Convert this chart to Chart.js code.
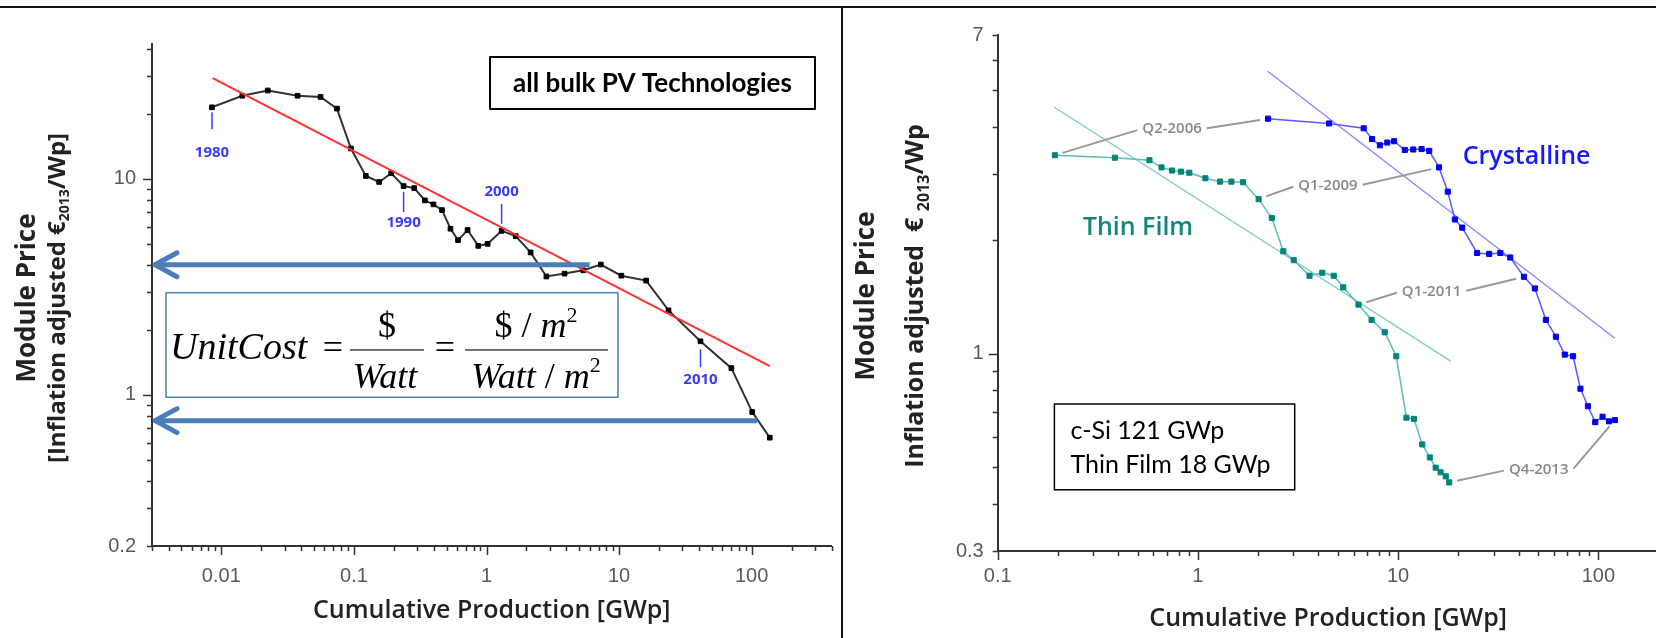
<!DOCTYPE html>
<html lang="en">
<head>
<meta charset="utf-8">
<title>PV module price learning curves</title>
<script src="https://cdn.jsdelivr.net/npm/chart.js@4.4.1/dist/chart.umd.min.js"></script>
<style>
  html, body { margin: 0; padding: 0; background: #fff; }
  body { position: relative; width: 1656px; height: 638px; overflow: hidden; }
  .panel { position: absolute; top: 0; height: 638px; }
  #leftPanel { left: 0; width: 841px; }
  #rightPanel { left: 843px; width: 837px; }
  #topRule { position: absolute; left: 0; top: 6px; width: 1656px; height: 2px; background: #111; }
  #divider { position: absolute; left: 841px; top: 6px; width: 2px; height: 632px; background: #111; }
</style>
</head>
<body>
<div class="panel" id="leftPanel"><canvas id="bulkChart"></canvas></div>
<div class="panel" id="rightPanel"><canvas id="techChart"></canvas></div>
<div id="topRule"></div>
<div id="divider"></div>
<script>
// all bulk PV technologies, one point per year 1980-2013
const bulkProduction = [0.0085, 0.0144, 0.0224, 0.0376, 0.056, 0.0745, 0.095, 0.123, 0.155, 0.191,
  0.237, 0.285, 0.343, 0.398, 0.462, 0.535, 0.61, 0.72, 0.867, 1.02,
  1.30, 1.66, 2.15, 2.83, 3.88, 5.37, 7.28, 10.4, 16.0, 23.6,
  41.1, 70.3, 101, 137];
const bulkPrice = [21.4, 24.2, 25.6, 24.2, 23.9, 21.1, 13.8, 10.3, 9.66, 10.6,
  9.25, 9.05, 7.94, 7.61, 7.16, 5.87, 5.20, 5.79, 4.89, 5.00,
  5.74, 5.43, 4.56, 3.53, 3.64, 3.77, 4.01, 3.56, 3.38, 2.46,
  1.77, 1.33, 0.833, 0.634];
const bulkFirstYear = 1980;
const bulkYearMarks = [1980, 1990, 2000, 2010];
const bulkFitProduction = [0.0086, 137];
const bulkFitPrice = [29.2, 1.36];
// price levels pointed at by the two arrows, and where the arrows start
const costLevels = [4.0, 0.76];
const costLevelProduction = [6.0, 110];

// quarterly, Q2-2006 .. Q4-2013
const thinFilmProduction = [0.193, 0.385, 0.573, 0.658, 0.743, 0.823, 0.906, 1.09, 1.29, 1.47,
  1.68, 2.01, 2.34, 2.67, 3.01, 3.61, 4.18, 4.77, 5.32, 6.34,
  7.37, 8.57, 9.79, 11.0, 12.0, 13.2, 14.4, 15.4, 16.3, 17.3,
  18];
const thinFilmPrice = [3.36, 3.31, 3.26, 3.12, 3.06, 3.04, 3.02, 2.92, 2.86, 2.86,
  2.85, 2.57, 2.29, 1.87, 1.77, 1.61, 1.64, 1.61, 1.50, 1.35,
  1.23, 1.14, 0.985, 0.677, 0.672, 0.575, 0.531, 0.499, 0.485, 0.473,
  0.456];
const crystallineProduction = [2.24, 4.52, 6.73, 7.41, 8.11, 8.83, 9.55, 10.8, 11.9, 13.1,
  14.3, 16.0, 17.7, 19.2, 20.9, 24.8, 28.5, 32.4, 36.3, 42.5,
  48.2, 54.7, 61.4, 68.0, 74.8, 81.4, 88.7, 96.5, 105, 113,
  121];
const crystallinePrice = [4.20, 4.08, 3.96, 3.71, 3.57, 3.63, 3.66, 3.47, 3.48, 3.49,
  3.45, 3.12, 2.69, 2.27, 2.16, 1.85, 1.84, 1.85, 1.80, 1.60,
  1.49, 1.23, 1.11, 0.995, 0.985, 0.808, 0.726, 0.659, 0.681, 0.662,
  0.667];
const thinFilmFitProduction = [0.191, 18.3];
const thinFilmFitPrice = [4.51, 0.956];
const crystallineFitProduction = [2.23, 121];
const crystallineFitPrice = [5.61, 1.10];
const quarterNames = ['Q2-2006', 'Q1-2009', 'Q1-2011', 'Q4-2013'];

const leftXTicks = [0.01, 0.1, 1, 10, 100];
const leftYTicks = [0.2, 1, 10];
const rightXTicks = [0.1, 1, 10, 100];
const rightYTicks = [0.3, 1, 7];

const sans = '"Open Sans", "Noto Sans", sans-serif';
const boxFont = 'Lato, "Open Sans", sans-serif';
const tickFont = '"Liberation Sans", Arial, sans-serif';
const serif = '"Liberation Serif", "Times New Roman", serif';

Chart.defaults.font.family = sans;

function points(xs, ys) {
  return xs.map((v, i) => ({ x: v, y: ys[i] }));
}

// index of a quarter like 'Q1-2009' in the quarterly series
function quarterIndex(name) {
  const q = Number(name[1]);
  const year = Number(name.slice(3));
  return (year - 2006) * 4 + (q - 2);
}

// every 1..9 x 10^n between min and max, decades flagged
function logMarks(min, max) {
  const marks = [];
  for (let e = Math.floor(Math.log10(min)); e <= Math.ceil(Math.log10(max)); e++) {
    for (let m = 1; m <= 9; m++) {
      const v = m * Math.pow(10, e);
      if (v >= min * 0.9999 && v <= max * 1.0001) marks.push({ v: v, major: m === 1 });
    }
  }
  return marks;
}

// draws text pieces side by side (for sub/superscripts), centred on x
function drawRuns(ctx, runs, x, y) {
  let total = 0;
  runs.forEach(r => { ctx.font = r.font; r.w = ctx.measureText(r.text).width; total += r.w; });
  let cx = x - total / 2;
  ctx.textAlign = 'left';
  runs.forEach(r => {
    ctx.font = r.font;
    ctx.fillText(r.text, cx, y + (r.dy || 0));
    cx += r.w;
  });
}

function logAxis(min, max, labels, size, padding, fit) {
  return {
    type: 'logarithmic',
    min: min,
    max: max,
    grid: { display: false, drawTicks: false },
    border: { display: true, color: '#333', width: 2 },
    ticks: {
      autoSkip: false,
      maxRotation: 0,
      padding: padding,
      color: '#5a5a5a',
      font: { family: tickFont, size: size },
      callback: v => String(v)
    },
    afterBuildTicks: s => { s.ticks = labels.map(v => ({ value: v })); },
    afterFit: fit
  };
}

// tick marks (long at decades) and the axis titles
const axisDecor = {
  id: 'axisDecor',
  afterDraw(chart, args, opts) {
    const { ctx, chartArea: area, scales: { x, y } } = chart;
    ctx.save();
    ctx.strokeStyle = '#333';
    ctx.lineWidth = 1.5;
    ctx.beginPath();
    logMarks(x.min, x.max).forEach(m => {
      const px = Math.round(x.getPixelForValue(m.v)) + 0.5;
      ctx.moveTo(px, area.bottom);
      ctx.lineTo(px, area.bottom + (m.major ? opts.majorLen : opts.minorLen));
    });
    logMarks(y.min, y.max).forEach(m => {
      const py = Math.round(y.getPixelForValue(m.v)) + 0.5;
      ctx.moveTo(area.left, py);
      ctx.lineTo(area.left - (m.major ? opts.majorLen : opts.minorLen), py);
    });
    ctx.stroke();

    ctx.fillStyle = '#222';
    ctx.textBaseline = 'middle';
    ctx.textAlign = 'center';
    ctx.font = opts.xTitle.font;
    ctx.fillText(opts.xTitle.text, (area.left + area.right) / 2, opts.xTitle.y);
    opts.yTitle.forEach(line => {
      ctx.save();
      ctx.translate(line.x, line.y);
      ctx.rotate(-Math.PI / 2);
      drawRuns(ctx, line.runs, 0, 0);
      ctx.restore();
    });
    ctx.restore();
  }
};

function drawEquation(ctx, b) {
  const it = 'italic 36px ' + serif;
  const up = '36px ' + serif;
  const sup = '22px ' + serif;
  const num = b.y + 44, den = b.y + 95.5, base = b.y + 66.5, bar = b.y + 56.5;
  ctx.save();
  ctx.fillStyle = '#fff';
  ctx.fillRect(b.x, b.y, b.w, b.h);
  ctx.strokeStyle = '#4f81bd';
  ctx.lineWidth = 1.5;
  ctx.strokeRect(b.x, b.y, b.w, b.h);
  ctx.fillStyle = '#000';
  ctx.textBaseline = 'alphabetic';
  ctx.textAlign = 'left';
  ctx.font = 'italic 38px ' + serif;
  ctx.fillText('UnitCost', b.x + 4, base);
  ctx.textAlign = 'center';
  ctx.font = up;
  ctx.fillText('=', b.x + 167, base);
  ctx.fillText('=', b.x + 279, base);
  ctx.fillStyle = '#444';
  ctx.fillRect(b.x + 184, bar, 74, 1.5);
  ctx.fillRect(b.x + 299, bar, 143, 1.5);
  ctx.fillStyle = '#000';
  ctx.fillText('$', b.x + 221, num);
  ctx.font = it;
  ctx.fillText('Watt', b.x + 219, den);
  drawRuns(ctx, [{ text: '$ / ', font: up }, { text: 'm', font: it }, { text: '2', font: sup, dy: -15 }], b.x + 370, num);
  drawRuns(ctx, [{ text: 'Watt', font: it }, { text: ' / ', font: up }, { text: 'm', font: it }, { text: '2', font: sup, dy: -16 }], b.x + 370, den);
  ctx.restore();
}

// year marks, arrows, title box and cost equation on the left chart
const bulkNotes = {
  id: 'bulkNotes',
  afterDatasetsDraw(chart, args, opts) {
    const { ctx, chartArea: area, scales: { x, y } } = chart;
    ctx.save();
    ctx.strokeStyle = '#3a3aff';
    ctx.fillStyle = '#3a3aff';
    ctx.lineWidth = 1.5;
    ctx.font = '700 15px ' + sans;
    ctx.textAlign = 'center';
    ctx.textBaseline = 'middle';
    bulkYearMarks.forEach((year, i) => {
      const k = year - bulkFirstYear;
      const px = x.getPixelForValue(bulkProduction[k]);
      const py = y.getPixelForValue(bulkPrice[k]);
      const o = opts.yearOffsets[i];
      ctx.beginPath();
      ctx.moveTo(px, py + o[0]);
      ctx.lineTo(px, py + o[1]);
      ctx.stroke();
      ctx.fillText(String(year), px, py + o[2]);
    });

    ctx.strokeStyle = '#4a7ebb';
    ctx.lineWidth = 5;
    ctx.lineJoin = 'round';
    costLevels.forEach((level, i) => {
      const py = y.getPixelForValue(level);
      const tip = area.left + 3;
      ctx.lineCap = 'butt';
      ctx.beginPath();
      ctx.moveTo(x.getPixelForValue(costLevelProduction[i]), py);
      ctx.lineTo(tip + 2, py);
      ctx.stroke();
      ctx.lineCap = 'round';
      ctx.beginPath();
      ctx.moveTo(tip + 22, py - 12);
      ctx.lineTo(tip, py);
      ctx.lineTo(tip + 22, py + 12);
      ctx.stroke();
    });

    const t = opts.titleBox;
    ctx.fillStyle = '#fff';
    ctx.fillRect(t.x, t.y, t.w, t.h);
    ctx.strokeStyle = '#000';
    ctx.lineWidth = 2;
    ctx.strokeRect(t.x, t.y, t.w, t.h);
    ctx.fillStyle = '#000';
    ctx.font = '700 26px ' + boxFont;
    ctx.textAlign = 'center';
    ctx.fillText('all bulk PV Technologies', t.x + t.w / 2, t.y + t.h / 2 + 1);

    drawEquation(ctx, opts.equationBox);
    ctx.restore();
  }
};

// series names, quarter leaders and the capacity box on the right chart
const techNotes = {
  id: 'techNotes',
  afterDatasetsDraw(chart, args, opts) {
    const { ctx, scales: { x, y } } = chart;
    ctx.save();
    ctx.textAlign = 'center';
    ctx.textBaseline = 'middle';
    ctx.font = '600 25px ' + sans;
    opts.names.forEach(n => {
      ctx.fillStyle = n.color;
      ctx.fillText(n.text, x.getPixelForValue(n.at[0]), y.getPixelForValue(n.at[1]));
    });

    ctx.font = '600 15px ' + sans;
    ctx.strokeStyle = '#999';
    ctx.fillStyle = '#888';
    ctx.lineWidth = 2;
    quarterNames.forEach((name, i) => {
      const k = quarterIndex(name);
      const lx = x.getPixelForValue(opts.labelAt[i][0]);
      const ly = y.getPixelForValue(opts.labelAt[i][1]);
      const half = ctx.measureText(name).width / 2 + 5;
      const ends = [
        [{ x: x.getPixelForValue(thinFilmProduction[k]), y: y.getPixelForValue(thinFilmPrice[k]) }, { x: lx - half, y: ly + 1 }],
        [{ x: x.getPixelForValue(crystallineProduction[k]), y: y.getPixelForValue(crystallinePrice[k]) }, { x: lx + half, y: ly - 1 }]
      ];
      ends.forEach(([p, q]) => {
        const dx = q.x - p.x, dy = q.y - p.y, len = Math.hypot(dx, dy);
        ctx.beginPath();
        ctx.moveTo(p.x + dx / len * 8, p.y + dy / len * 8);
        ctx.lineTo(q.x, q.y);
        ctx.stroke();
      });
      ctx.fillText(name, lx, ly);
    });

    const b = opts.capacityBox;
    ctx.fillStyle = '#fff';
    ctx.fillRect(b.x, b.y, b.w, b.h);
    ctx.strokeStyle = '#000';
    ctx.lineWidth = 1.5;
    ctx.strokeRect(b.x, b.y, b.w, b.h);
    ctx.fillStyle = '#000';
    ctx.font = '25px ' + boxFont;
    ctx.textAlign = 'left';
    ctx.fillText('c-Si ' + crystallineProduction[crystallineProduction.length - 1] + ' GWp', b.x + 16, b.y + 27);
    ctx.fillText('Thin Film ' + thinFilmProduction[thinFilmProduction.length - 1] + ' GWp', b.x + 16, b.y + 61);
    ctx.restore();
  }
};

const common = {
  responsive: true,
  maintainAspectRatio: false,
  animation: false,
  events: [],
  plugins: { legend: { display: false }, tooltip: { enabled: false } }
};

new Chart(document.getElementById('bulkChart'), {
  type: 'scatter',
  data: {
    datasets: [
      {
        data: points(bulkFitProduction, bulkFitPrice),
        showLine: true,
        borderColor: '#ff3030',
        borderWidth: 2,
        pointRadius: 0
      },
      {
        data: points(bulkProduction, bulkPrice),
        showLine: true,
        borderColor: '#333',
        borderWidth: 2,
        pointStyle: 'rect',
        pointRadius: 3.3,
        pointBackgroundColor: '#000',
        pointBorderColor: '#000',
        pointBorderWidth: 1
      }
    ]
  },
  options: Object.assign({}, common, {
    layout: { padding: { left: 0, top: 44, right: 9.5, bottom: 0 } },
    scales: {
      x: logAxis(0.003, 400, leftXTicks, 20, 18, s => { s.height = 92; }),
      y: logAxis(0.2, 42, leftYTicks, 20, 16, s => { s.width = 152; })
    },
    plugins: Object.assign({}, common.plugins, {
      axisDecor: {
        majorLen: 9,
        minorLen: 5,
        xTitle: { text: 'Cumulative Production [GWp]', font: '600 25px ' + sans, y: 611 },
        yTitle: [
          { x: 28, y: 298, runs: [{ text: 'Module Price', font: '700 26px ' + sans }] },
          { x: 58, y: 298, runs: [
            { text: '[Inflation adjusted €', font: '700 24px ' + sans },
            { text: '2013', font: '700 14px ' + sans, dy: 7 },
            { text: '/Wp]', font: '700 24px ' + sans }
          ] }
        ]
      },
      bulkNotes: {
        yearOffsets: [[5, 22, 45], [6, 26, 37], [-27, -7, -39], [8, 26, 38]],
        titleBox: { x: 490, y: 57, w: 325, h: 52 },
        equationBox: { x: 166, y: 292.7, w: 452, h: 104.6 }
      }
    })
  }),
  plugins: [axisDecor, bulkNotes]
});

new Chart(document.getElementById('techChart'), {
  type: 'scatter',
  data: {
    datasets: [
      {
        data: points(thinFilmProduction, thinFilmPrice),
        showLine: true,
        borderColor: '#5cbdb1',
        borderWidth: 1.5,
        pointStyle: 'rect',
        pointRadius: 3.6,
        pointBackgroundColor: '#00837a',
        pointBorderColor: '#00837a',
        pointBorderWidth: 1
      },
      {
        data: points(crystallineProduction, crystallinePrice),
        showLine: true,
        borderColor: '#5a5aff',
        borderWidth: 1.5,
        pointStyle: 'rect',
        pointRadius: 3.6,
        pointBackgroundColor: '#0000f0',
        pointBorderColor: '#0000f0',
        pointBorderWidth: 1
      },
      {
        data: points(thinFilmFitProduction, thinFilmFitPrice),
        showLine: true,
        borderColor: '#7fcdc3',
        borderWidth: 1.3,
        pointRadius: 0
      },
      {
        data: points(crystallineFitProduction, crystallineFitPrice),
        showLine: true,
        borderColor: '#8585ff',
        borderWidth: 1.3,
        pointRadius: 0
      }
    ]
  },
  options: Object.assign({}, common, {
    layout: { padding: { left: 0, top: 35, right: 21.4, bottom: 0 } },
    scales: {
      x: logAxis(0.1, 200, rightXTicks, 20, 13, s => { s.height = 87; }),
      y: logAxis(0.3, 7, rightYTicks, 20, 14, s => { s.width = 154.7; })
    },
    plugins: Object.assign({}, common.plugins, {
      axisDecor: {
        majorLen: 9,
        minorLen: 5,
        xTitle: { text: 'Cumulative Production [GWp]', font: '600 25px ' + sans, y: 619 },
        yTitle: [
          { x: 24, y: 296, runs: [{ text: 'Module Price', font: '700 26px ' + sans }] },
          { x: 73, y: 296, runs: [
            { text: 'Inflation adjusted  € ', font: '700 25px ' + sans },
            { text: '2013', font: '700 16px ' + sans, dy: 8 },
            { text: '/Wp', font: '700 25px ' + sans }
          ] }
        ]
      },
      techNotes: {
        names: [
          { text: 'Crystalline', color: '#1818ff', at: [43.8, 3.33] },
          { text: 'Thin Film', color: '#13877e', at: [0.502, 2.16] }
        ],
        labelAt: [[0.743, 3.94], [4.46, 2.79], [14.7, 1.46], [50.4, 0.493]],
        capacityBox: { x: 211.4, y: 404, w: 240.3, h: 85.8 }
      }
    })
  }),
  plugins: [axisDecor, techNotes]
});
</script>
</body>
</html>
